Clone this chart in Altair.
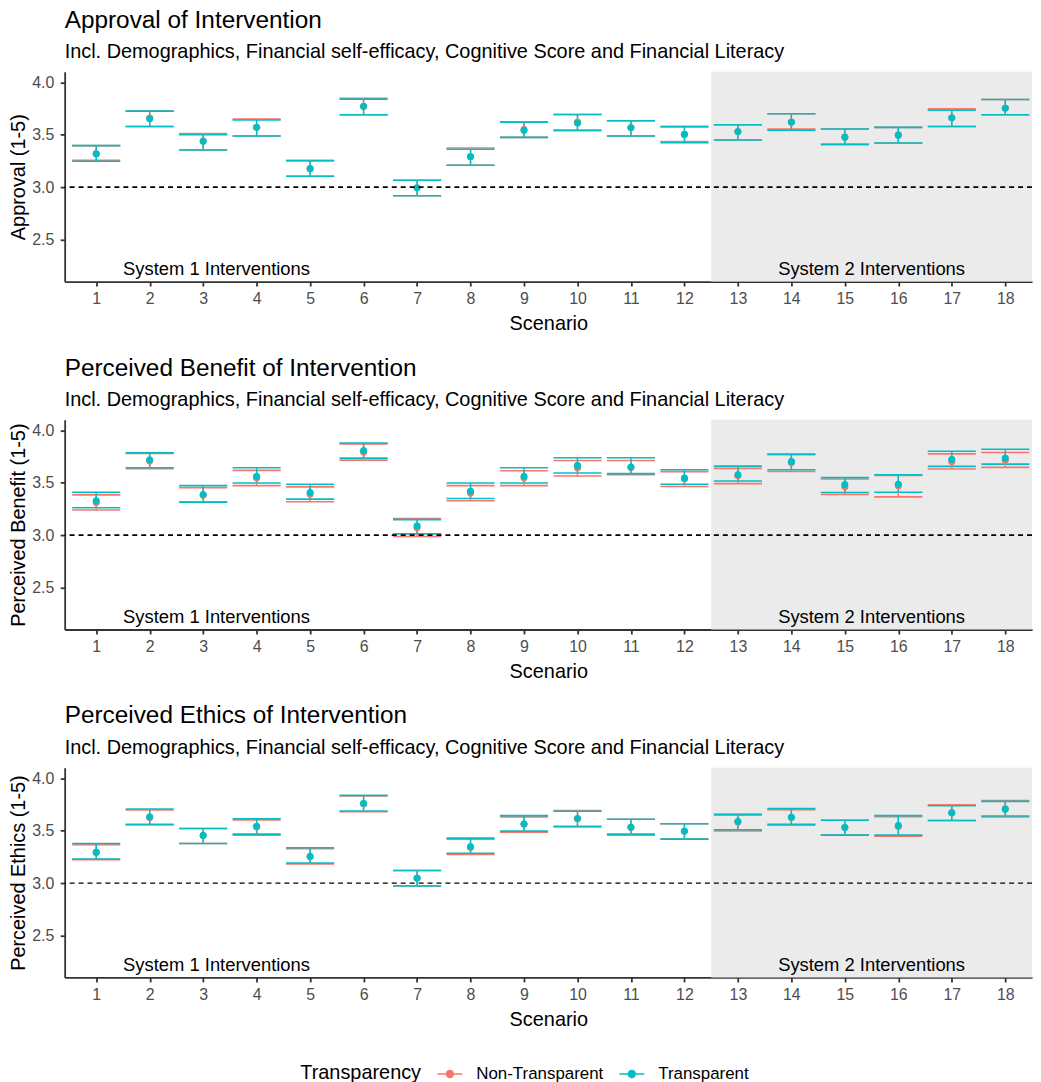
import altair as alt
import pandas as pd

scenarios = list(range(1, 19))
groups = ["Non-Transparent", "Transparent"]
colors = ["#F8766D", "#00BFC4"]

panel_titles = ["Approval of Intervention",
                "Perceived Benefit of Intervention",
                "Perceived Ethics of Intervention"]
subtitle = "Incl. Demographics, Financial self-efficacy, Cognitive Score and Financial Literacy"
y_titles = ["Approval (1-5)", "Perceived Benefit (1-5)", "Perceived Ethics (1-5)"]
y_ticks = [2.5, 3.0, 3.5, 4.0]

# ---- Panel 1: Approval ----
p1_t_mean = [3.317, 3.652, 3.437, 3.57, 3.174, 3.77, 2.994, 3.291, 3.541, 3.611, 3.567, 3.503, 3.529, 3.62, 3.475, 3.494, 3.661, 3.753]
p1_t_lo = [3.247, 3.579, 3.355, 3.487, 3.104, 3.69, 2.918, 3.209, 3.475, 3.541, 3.487, 3.424, 3.449, 3.544, 3.408, 3.421, 3.579, 3.69]
p1_t_hi = [3.396, 3.725, 3.50, 3.64, 3.253, 3.839, 3.066, 3.361, 3.62, 3.693, 3.633, 3.577, 3.595, 3.70, 3.554, 3.57, 3.734, 3.836]
p1_n_mean = [3.32, 3.66, 3.44, 3.57, 3.18, 3.77, 2.994, 3.29, 3.55, 3.62, 3.567, 3.503, 3.529, 3.62, 3.48, 3.50, 3.661, 3.753]
p1_n_lo = [3.257, 3.579, 3.355, 3.487, 3.104, 3.69, 2.918, 3.209, 3.475, 3.541, 3.487, 3.434, 3.449, 3.554, 3.408, 3.421, 3.579, 3.69]
p1_n_hi = [3.396, 3.725, 3.51, 3.649, 3.253, 3.848, 3.066, 3.374, 3.62, 3.693, 3.633, 3.577, 3.595, 3.70, 3.554, 3.57, 3.747, 3.836]

# ---- Panel 2: Perceived Benefit ----
p2_t_mean = [3.327, 3.718, 3.387, 3.56, 3.406, 3.806, 3.088, 3.419, 3.56, 3.664, 3.649, 3.545, 3.576, 3.702, 3.482, 3.485, 3.721, 3.734]
p2_t_lo = [3.261, 3.642, 3.315, 3.497, 3.343, 3.734, 3.012, 3.349, 3.497, 3.592, 3.586, 3.485, 3.516, 3.623, 3.406, 3.409, 3.655, 3.677]
p2_t_hi = [3.409, 3.784, 3.472, 3.642, 3.485, 3.879, 3.148, 3.497, 3.642, 3.737, 3.737, 3.623, 3.658, 3.772, 3.548, 3.576, 3.800, 3.819]
p2_n_mean = [3.31, 3.705, 3.38, 3.545, 3.39, 3.79, 3.07, 3.40, 3.545, 3.64, 3.645, 3.535, 3.565, 3.69, 3.46, 3.47, 3.70, 3.715]
p2_n_lo = [3.239, 3.633, 3.315, 3.472, 3.318, 3.715, 2.987, 3.327, 3.472, 3.563, 3.576, 3.463, 3.491, 3.607, 3.387, 3.365, 3.63, 3.646]
p2_n_hi = [3.384, 3.778, 3.453, 3.617, 3.46, 3.87, 3.157, 3.472, 3.614, 3.712, 3.712, 3.605, 3.636, 3.766, 3.535, 3.57, 3.775, 3.788]

# ---- Panel 3: Perceived Ethics ----
p3_t_mean = [3.296, 3.631, 3.454, 3.542, 3.255, 3.76, 3.047, 3.347, 3.565, 3.615, 3.533, 3.495, 3.587, 3.628, 3.53, 3.549, 3.669, 3.703]
p3_t_lo = [3.23, 3.561, 3.378, 3.467, 3.192, 3.688, 2.972, 3.284, 3.495, 3.542, 3.467, 3.419, 3.508, 3.561, 3.457, 3.457, 3.596, 3.64]
p3_t_hi = [3.378, 3.706, 3.52, 3.612, 3.337, 3.836, 3.12, 3.429, 3.643, 3.685, 3.609, 3.565, 3.65, 3.71, 3.599, 3.643, 3.738, 3.779]
p3_n_mean = [3.29, 3.625, 3.454, 3.535, 3.25, 3.755, 3.047, 3.34, 3.56, 3.615, 3.53, 3.495, 3.58, 3.625, 3.53, 3.54, 3.672, 3.71]
p3_n_lo = [3.224, 3.555, 3.378, 3.457, 3.183, 3.68, 2.972, 3.274, 3.486, 3.536, 3.457, 3.419, 3.498, 3.552, 3.457, 3.448, 3.596, 3.631]
p3_n_hi = [3.366, 3.697, 3.52, 3.602, 3.328, 3.83, 3.12, 3.419, 3.631, 3.691, 3.609, 3.565, 3.659, 3.70, 3.599, 3.634, 3.747, 3.788]

panels = [
    ((p1_n_mean, p1_n_lo, p1_n_hi), (p1_t_mean, p1_t_lo, p1_t_hi)),
    ((p2_n_mean, p2_n_lo, p2_n_hi), (p2_t_mean, p2_t_lo, p2_t_hi)),
    ((p3_n_mean, p3_n_lo, p3_n_hi), (p3_t_mean, p3_t_lo, p3_t_hi)),
]

shade_x = [12.5]
shade_x2 = [18.5]
ref_y = [3.0]
note_x = [3.25, 15.5]
note_y = [2.165, 2.165]
note_text = ["System 1 Interventions", "System 2 Interventions"]

FONT = "Liberation Sans"
W, H = 973, 211
x_scale = alt.Scale(domain=[0.41, 18.5], nice=False, zero=False)
y_scale = alt.Scale(domain=[2.1, 4.1], nice=False, zero=False)
color_scale = alt.Scale(domain=groups, range=colors)

x_axis = alt.Axis(values=scenarios, format="d", grid=False, tickSize=4.5,
                  labelPadding=5, titlePadding=7, labelFontSize=16,
                  titleFontSize=20, labelColor="#4D4D4D", titleColor="black",
                  titleFontWeight="normal", labelFlush=False)

legend_path = ("M-1.25,0L1.25,0M-0.35,0A0.35,0.35,0,1,1,0.35,0"
               "A0.35,0.35,0,1,1,-0.35,0Z")
legend = alt.Legend(
    title="Transparency", orient="none", legendX=237, legendY=997,
    direction="horizontal", titleOrient="left", titleFontSize=20,
    titleFontWeight="normal", titleColor="black", titlePadding=17.5,
    labelFontSize=17, labelColor="black", labelOffset=15.5,
    columnPadding=12, symbolType=legend_path, symbolSize=400,
    symbolStrokeWidth=1.5, symbolOpacity=1,
)


def X(field):
    return alt.X(f"{field}:Q", scale=x_scale, axis=x_axis, title="Scenario")


def make_panel(k):
    (n_mean, n_lo, n_hi), (t_mean, t_lo, t_hi) = panels[k]
    rows = []
    for g, mn, lo, hi in [(groups[0], n_mean, n_lo, n_hi), (groups[1], t_mean, t_lo, t_hi)]:
        for s, m, l, h in zip(scenarios, mn, lo, hi):
            rows.append({"scenario": s, "group": g, "mean": m, "lo": l, "hi": h})
    df = pd.DataFrame(rows)

    y_axis = alt.Axis(values=y_ticks, format=".1f", grid=False, tickSize=4.5,
                      labelPadding=6.5, titlePadding=3, labelFontSize=16,
                      titleFontSize=20, labelColor="#4D4D4D", titleColor="black",
                      titleFontWeight="normal")

    def Y(field):
        return alt.Y(f"{field}:Q", scale=y_scale, axis=y_axis, title=y_titles[k])

    col_rule = alt.Color("group:N", scale=color_scale)
    col_pt = alt.Color("group:N", scale=color_scale, legend=legend)
    stroke_pt = alt.Stroke("group:N", scale=color_scale, legend=legend)

    shade = alt.Chart(pd.DataFrame({"x1": shade_x, "x2": shade_x2})).mark_rect(
        color="#EBEBEB").encode(x=X("x1"), x2="x2:Q", y=alt.value(0), y2=alt.value(H))

    base = alt.Chart(df).transform_calculate(
        xl="datum.scenario - 0.45", xr="datum.scenario + 0.45")

    cap_lo = base.mark_rule(strokeWidth=1.6).encode(
        x=X("xl"), x2="xr:Q", y=Y("lo"), color=col_rule)
    cap_hi = base.mark_rule(strokeWidth=1.6).encode(
        x=X("xl"), x2="xr:Q", y=Y("hi"), color=col_rule)
    vline = base.mark_rule(strokeWidth=1.4).encode(
        x=X("scenario"), y=Y("lo"), y2="hi:Q", color=col_rule)
    pts = base.mark_point(filled=True, size=40, opacity=1, strokeWidth=1).encode(
        x=X("scenario"), y=Y("mean"), color=col_pt, stroke=stroke_pt)

    ref = alt.Chart(pd.DataFrame({"ref": ref_y})).mark_rule(
        color="black", strokeDash=[5, 4], strokeWidth=1.6 if k < 2 else 1.25
    ).encode(y=Y("ref"))

    notes = alt.Chart(pd.DataFrame({"nx": note_x, "ny": note_y, "label": note_text})).mark_text(
        font=FONT, fontSize=18.5, color="black", baseline="alphabetic", align="center"
    ).encode(x=X("nx"), y=Y("ny"), text="label:N")

    return alt.layer(shade, cap_lo, cap_hi, vline, pts, ref, notes).properties(
        width=W, height=H,
        title=alt.TitleParams(
            text=panel_titles[k], subtitle=subtitle, anchor="start", frame="group",
            fontSize=24.5, subtitleFontSize=20, fontWeight="normal", font=FONT,
            subtitleFont=FONT, color="black", subtitleColor="black",
            offset=9, subtitlePadding=9),
    )


chart = alt.vconcat(make_panel(0), make_panel(1), make_panel(2), spacing=21).properties(
    padding={"top": -4, "left": 0, "right": 0, "bottom": 0}
).configure(font=FONT).configure_view(stroke=None).configure_axis(
    domainColor="#333333", tickColor="#333333", domainWidth=1.8, tickWidth=1.8,
    labelFont=FONT, titleFont=FONT
).configure_legend(labelFont=FONT, titleFont=FONT)

chart.save("out.html", embed_options={"renderer": "svg", "actions": False})
